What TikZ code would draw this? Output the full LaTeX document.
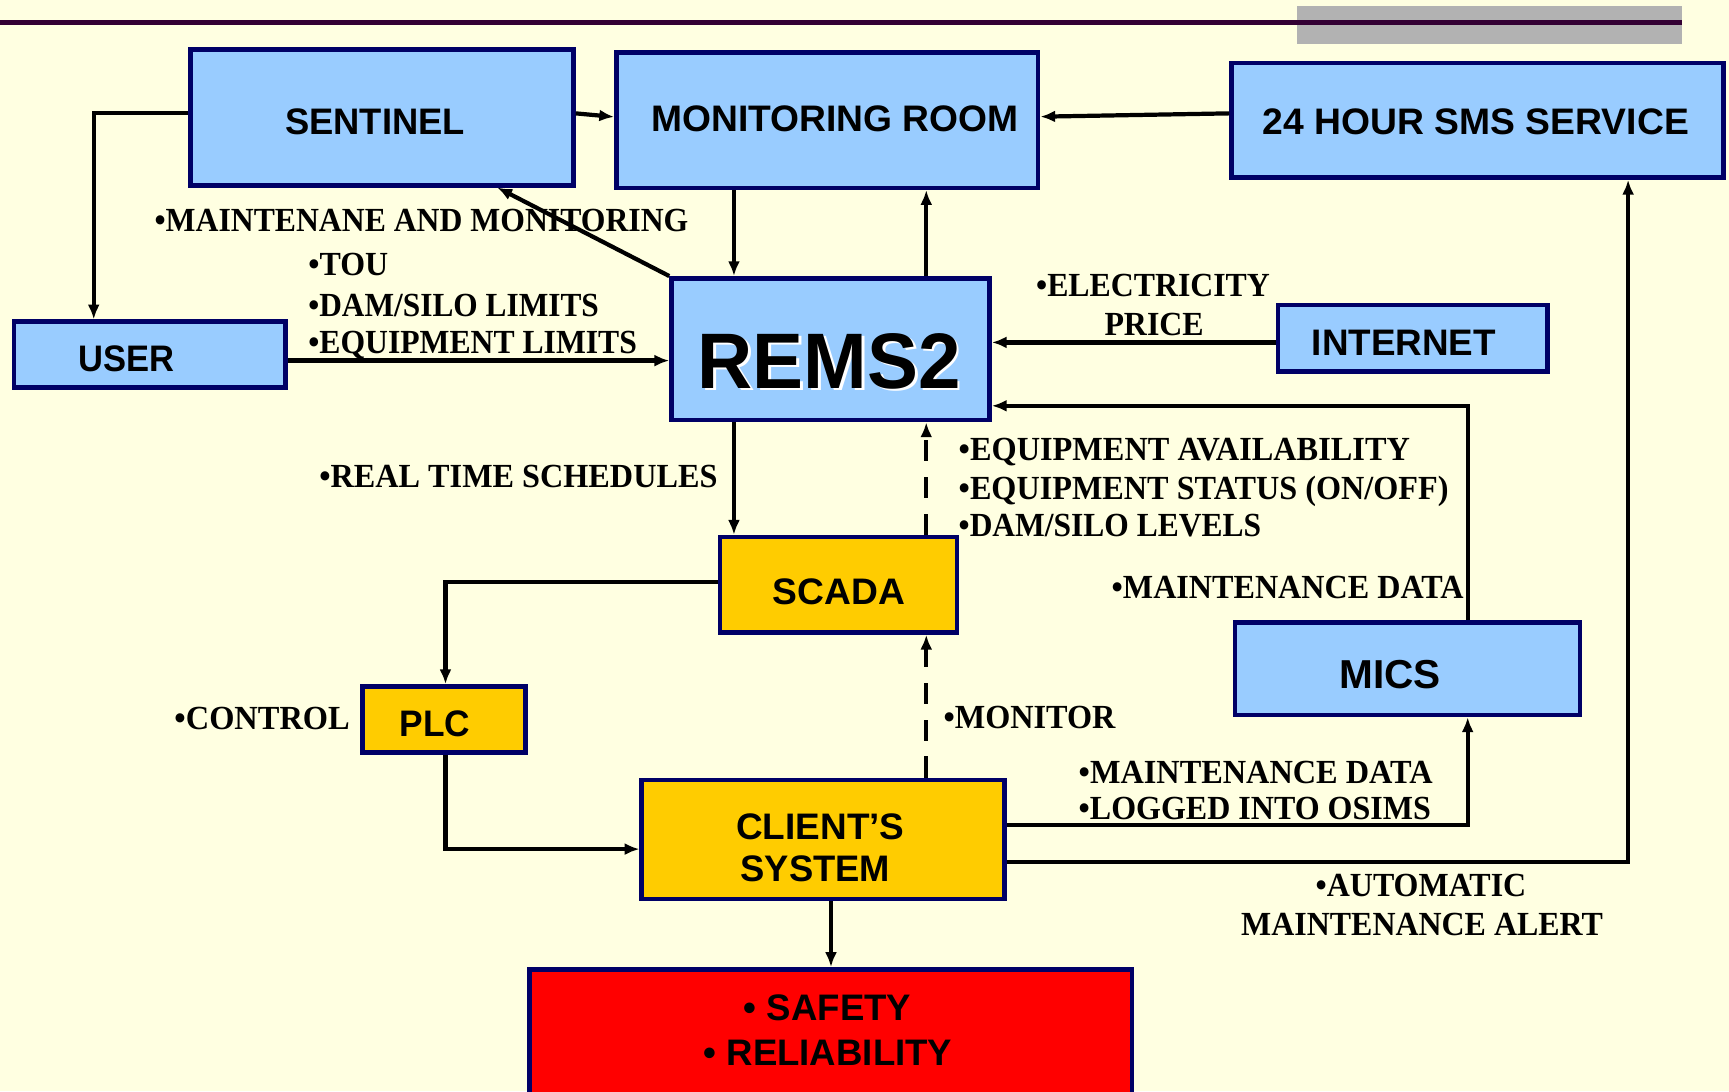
\documentclass[tikz,border=0pt]{standalone}
\usepackage{fontspec}
\setmainfont{Liberation Serif}
\setsansfont{Liberation Sans}
\usetikzlibrary{arrows.meta}
\definecolor{bgc}{HTML}{FFFFE1}
\definecolor{navy}{HTML}{000066}
\definecolor{lblue}{HTML}{99CCFF}
\definecolor{gold}{HTML}{FFCC00}
\definecolor{redfill}{HTML}{FF0000}
\definecolor{topline}{HTML}{330033}
\definecolor{greybar}{HTML}{B2B2B2}
\newlength\U
\setlength\U{0.11027mm}
\newcommand\fitw[2]{\resizebox{#1\U}{\height}{#2}}
\newcommand\boxfont{\sffamily\bfseries\fontsize{10.5}{12}\selectfont}
\newcommand\notefont{\rmfamily\bfseries\fontsize{9.6}{11}\selectfont}
\begin{document}
\begin{tikzpicture}[x=0.11027mm, y=-0.11027mm,
  box/.style n args={3}{draw=navy, line width=1.3pt, fill=#1, rectangle,
    minimum width=#2\U, minimum height=#3\U, inner sep=0pt},
  txt/.style={anchor=base west, inner sep=0pt, font=\boxfont},
  note/.style={anchor=base west, inner sep=0pt, font=\notefont},
  conn/.style={line width=1.2pt, -{Latex[length=4.2pt,width=3.4pt]}},
  dconn/.style={conn, dash pattern=on 6pt off 4.5pt}]
\clip (0,0) rectangle (1568,989.4);
\fill[bgc] (0,0) rectangle (1568,989.4);
\fill[greybar] (1176,5.4) rectangle (1525,39.6);
\draw[topline, line width=1.4pt] (0,20.3) -- (1525,20.3);

% boxes
\node[box={lblue}{347}{123}] (sentinel) at (346.5,106.5) {};
\node[box={lblue}{382.4}{122.7}] (mon) at (750.2,108.95) {};
\node[box={lblue}{446}{104}] (sms) at (1340,109) {};
\node[box={lblue}{246.2}{59.7}] (user) at (135.9,321.55) {};
\node[box={lblue}{288.4}{128.6}] (rems) at (753.2,316.7) {};
\node[box={lblue}{244.4}{60.4}] (inet) at (1281.2,306.8) {};
\node[box={gold}{214.8}{86.6}] (scada) at (760.4,530.3) {};
\node[box={lblue}{313.2}{83.9}] (mics) at (1276.4,606.45) {};
\node[box={gold}{148.2}{59.9}] (plc) at (402.7,652.45) {};
\node[box={gold}{329}{108.2}] (client) at (746.5,761.3) {};
\node[box={redfill}{546.5}{121}] (safety) at (753.25,939.5) {};

% box texts
\node[txt] (tsentinel) at (258,122.4) {\fitw{163}{SENTINEL}};
\node[txt] (tmon) at (590,119.4) {\fitw{333}{MONITORING ROOM}};
\node[txt] (tsms) at (1144.6,122.4) {\fitw{386.4}{24 HOUR SMS SERVICE}};
\node[txt] (tuser) at (70.9,337) {\fitw{87}{USER}};
\node[txt, text=white, font=\sffamily\bfseries\fontsize{22.4}{26}\selectfont] (tremsshadow) at (634.5,354.5) {\fitw{238.6}{REMS2}};
\node[txt, font=\sffamily\bfseries\fontsize{22.4}{26}\selectfont] (trems) at (632,352) {\fitw{238.6}{REMS2}};
\node[txt] (tinet) at (1189,322) {\fitw{167}{INTERNET}};
\node[txt] (tscada) at (700,547.8) {\fitw{120}{SCADA}};
\node[txt, font=\sffamily\bfseries\fontsize{11.5}{13}\selectfont] (tmics) at (1214,624) {\fitw{92}{MICS}};
\node[txt] (tplc) at (362,668) {\fitw{64}{PLC}};
\node[txt] (tclient) at (667,761) {\fitw{152.6}{CLIENT’S}};
\node[txt] (tsystem) at (671,799.6) {\fitw{135.7}{SYSTEM}};
\node[txt] (tsafety) at (674,925) {\fitw{151.7}{• SAFETY}};
\node[txt] (treliab) at (637.5,965.8) {\fitw{225.5}{• RELIABILITY}};

% annotations
\node[note] (n1) at (139.6,209.5) {\fitw{484}{•MAINTENANE AND MONITORING}};
\node[note] (n2) at (279,250) {\fitw{72.4}{•TOU}};
\node[note] (n3) at (279,286.6) {\fitw{263.5}{•DAM/SILO LIMITS}};
\node[note] (n4) at (279,320.3) {\fitw{298}{•EQUIPMENT LIMITS}};
\node[note] (n5) at (939,269) {\fitw{212}{•ELECTRICITY}};
\node[note] (n6) at (1001,304) {\fitw{90}{PRICE}};
\node[note] (n7) at (289,442) {\fitw{361}{•REAL TIME SCHEDULES}};
\node[note] (n8) at (868.8,417.2) {\fitw{409.2}{•EQUIPMENT AVAILABILITY}};
\node[note] (n9) at (868.8,452.8) {\fitw{444.2}{•EQUIPMENT STATUS (ON/OFF)}};
\node[note] (n10) at (868.8,486.7) {\fitw{274.2}{•DAM/SILO LEVELS}};
\node[note] (n11) at (1007.5,542.6) {\fitw{319.2}{•MAINTENANCE DATA}};
\node[note] (n12) at (157.6,661.4) {\fitw{159}{•CONTROL}};
\node[note] (n13) at (855,661) {\fitw{156}{•MONITOR}};
\node[note] (n14) at (977.6,710.4) {\fitw{321}{•MAINTENANCE DATA}};
\node[note] (n15) at (977.6,743.6) {\fitw{319.4}{•LOGGED INTO OSIMS}};
\node[note] (n16) at (1192.5,813.2) {\fitw{191}{•AUTOMATIC}};
\node[note] (n17) at (1125,848) {\fitw{328}{MAINTENANCE ALERT}};

% connectors
\draw[conn] (sentinel.west |- 0,102.8) -| (user.north -| 85,0);
\draw[conn] (sentinel.east |- 0,102.8) -- (mon.west |- 0,106);
\draw[conn] (sms.west |- 0,102.8) -- (mon.east |- 0,105.8);
\draw[conn] (mon.south -| 665.6,0) -- (rems.north -| 665.6,0);
\draw[conn] (rems.north -| 840,0) -- (mon.south -| 840,0);
\draw[conn] (rems.north west) -- (sentinel.south -| 451,0);
\draw[conn] (user.east |- 0,327) -- (rems.west |- 0,327);
\draw[conn] (inet.west |- 0,310.5) -- (rems.east |- 0,310.5);
\draw[conn] (mics.north -| 1331,0) |- (rems.east |- 0,368);
\draw[conn] (rems.south -| 665.6,0) -- (scada.north -| 665.6,0);
\draw[dconn] (scada.north -| 840,0) -- (rems.south -| 840,0);
\draw[conn] (scada.west |- 0,527.5) -| (plc.north -| 404,0);
\draw[conn] (plc.south -| 404,0) |- (client.west |- 0,770);
\draw[dconn] (client.north -| 840,0) -- (scada.south -| 840,0);
\draw[conn] (client.east |- 0,748) -| (mics.south -| 1331,0);
\draw[conn] (client.east |- 0,782) -| (sms.south -| 1476.5,0);
\draw[conn] (client.south -| 753.6,0) -- (safety.north -| 753.6,0);
\end{tikzpicture}
\end{document}
